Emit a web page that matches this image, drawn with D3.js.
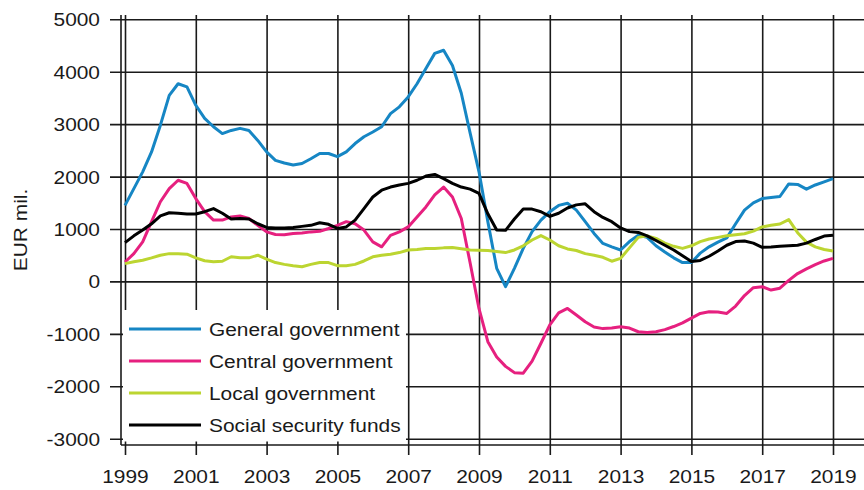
<!DOCTYPE html>
<html>
<head>
<meta charset="utf-8">
<script src="https://cdn.jsdelivr.net/npm/d3@7"></script>
<style>
  html, body { margin: 0; padding: 0; background: #fff; }
  svg { display: block; }
  text { font-family: "Liberation Sans", Arial, sans-serif; fill: #1a1a1a; }
</style>
</head>
<body>
<svg id="chart" width="864" height="490"></svg>
<script>
// ---- data ----
const quarters = [
  "1999Q1","1999Q2","1999Q3","1999Q4","2000Q1","2000Q2","2000Q3","2000Q4",
  "2001Q1","2001Q2","2001Q3","2001Q4","2002Q1","2002Q2","2002Q3","2002Q4",
  "2003Q1","2003Q2","2003Q3","2003Q4","2004Q1","2004Q2","2004Q3","2004Q4",
  "2005Q1","2005Q2","2005Q3","2005Q4","2006Q1","2006Q2","2006Q3","2006Q4",
  "2007Q1","2007Q2","2007Q3","2007Q4","2008Q1","2008Q2","2008Q3","2008Q4",
  "2009Q1","2009Q2","2009Q3","2009Q4","2010Q1","2010Q2","2010Q3","2010Q4",
  "2011Q1","2011Q2","2011Q3","2011Q4","2012Q1","2012Q2","2012Q3","2012Q4",
  "2013Q1","2013Q2","2013Q3","2013Q4","2014Q1","2014Q2","2014Q3","2014Q4",
  "2015Q1","2015Q2","2015Q3","2015Q4","2016Q1","2016Q2","2016Q3","2016Q4",
  "2017Q1","2017Q2","2017Q3","2017Q4","2018Q1","2018Q2","2018Q3","2018Q4",
  "2019Q1"
];
const generalGov = [
  1450,1770,2090,2470,2980,3550,3770,3710,3360,3110,2950,2820,2880,2920,2880,2690,
  2470,2310,2260,2220,2250,2340,2440,2440,2380,2470,2630,2760,2850,2950,3200,3330,
  3520,3770,4060,4350,4410,4120,3590,2830,2090,1140,250,-100,250,630,950,1170,
  1330,1450,1490,1360,1140,915,725,660,600,760,880,840,680,560,450,360,
  360,540,660,750,830,1100,1360,1500,1580,1600,1620,1860,1850,1760,1840,1900,
  1960
];
const centralGov = [
  370,530,755,1140,1520,1770,1930,1870,1580,1330,1170,1170,1230,1250,1200,1070,
  945,895,890,915,925,945,955,1010,1070,1140,1100,980,755,660,880,945,
  1040,1230,1420,1650,1800,1610,1200,350,-520,-1150,-1440,-1620,-1740,-1750,-1520,-1180,
  -830,-600,-515,-640,-770,-870,-900,-890,-865,-890,-960,-975,-960,-920,-860,-790,
  -700,-610,-580,-585,-610,-470,-270,-120,-100,-165,-130,20,150,240,320,390,
  440
];
const localGov = [
  340,375,405,450,500,530,530,520,450,395,375,385,470,450,450,500,
  425,360,325,300,280,325,360,360,300,300,325,390,470,500,520,550,
  600,610,630,630,640,645,625,600,595,590,570,550,600,680,790,875,
  790,680,620,590,530,500,460,385,440,640,840,870,820,730,670,630,
  680,760,810,840,870,890,910,960,1040,1070,1095,1180,930,750,660,610,
  580
];
const socialSec = [
  740,870,980,1100,1250,1310,1300,1285,1285,1330,1390,1300,1190,1200,1190,1100,
  1030,1020,1020,1030,1050,1070,1120,1090,1010,1040,1170,1390,1610,1740,1800,1840,
  1870,1930,2010,2040,1960,1870,1800,1760,1680,1290,980,975,1190,1380,1380,1330,
  1240,1300,1400,1460,1480,1330,1220,1140,1020,950,935,870,780,690,600,490,
  380,400,480,580,690,760,770,730,650,655,670,680,690,730,800,865,
  880
];
const seriesNames = ["General government","Central government","Local government","Social security funds"];
const seriesColors = ["#1686c4","#e6207f","#bcd531","#000000"];
const xTicks = [1999,2001,2003,2005,2007,2009,2011,2013,2015,2017,2019];
const yTicks = [-3000,-2000,-1000,0,1000,2000,3000,4000,5000];
const yTitle = "EUR mil.";

// ---- layout ----
const W = 864, H = 490;
const axisX = 121, axisY = 445, plotTop = 15;
const SX = 1.1; // horizontal text stretch
const svg = d3.select("#chart");

const qToNum = q => +q.slice(0,4) + (+q.slice(5) - 1) / 4;
const x = d3.scaleLinear().domain([1999, 2019]).range([125, 833]);
const y = d3.scaleLinear().domain([-3000, 5000]).range([438.7, 19.3]);

const allSeries = [generalGov, centralGov, localGov, socialSec];

// horizontal gridlines + y axis
const yAxis = d3.axisLeft(y).tickValues(yTicks).tickFormat(d => d)
  .tickSizeInner(-(W - axisX)).tickSizeOuter(0);
const gy = svg.append("g").attr("transform", `translate(${axisX},0)`).call(yAxis);
gy.select(".domain").remove();
gy.selectAll(".tick line").attr("x1", -11).attr("stroke", "#1a1a1a").attr("stroke-width", 1.6);
gy.selectAll(".tick text")
  .attr("x", -21 / SX).attr("dy", "0.34em")
  .attr("transform", `scale(${SX},1)`)
  .style("font-size", "19px").attr("fill", "#1a1a1a")
  .attr("font-family", null);

// vertical gridlines + x axis
const xAxis = d3.axisBottom(x).tickValues(xTicks).tickFormat(d => d)
  .tickSizeInner(10).tickSizeOuter(0);
const gx = svg.append("g").attr("transform", `translate(0,${axisY})`).call(xAxis);
gx.select(".domain").remove();
gx.selectAll(".tick line").attr("y1", -(axisY - plotTop)).attr("stroke", "#1a1a1a").attr("stroke-width", 1.6);
gx.selectAll(".tick text")
  .attr("y", 38).attr("dy", 0)
  .attr("transform", `scale(${SX},1)`)
  .style("font-size", "19px").attr("fill", "#1a1a1a")
  .attr("font-family", null);

// axis lines
svg.append("line").attr("x1", axisX).attr("x2", axisX).attr("y1", plotTop).attr("y2", axisY)
  .attr("stroke", "#1a1a1a").attr("stroke-width", 1.6);
svg.append("line").attr("x1", axisX).attr("x2", W).attr("y1", axisY).attr("y2", axisY)
  .attr("stroke", "#1a1a1a").attr("stroke-width", 1.6);

// y title
svg.append("text")
  .attr("transform", `translate(27,230) rotate(-90) scale(${SX},1)`)
  .attr("text-anchor", "middle")
  .style("font-size", "19px")
  .text(yTitle);

// series lines
const line = d3.line().x((d, i) => x(qToNum(quarters[i]))).y(d => y(d)).curve(d3.curveLinear);
allSeries.forEach((s, k) => {
  svg.append("path").datum(s)
    .attr("d", line)
    .attr("fill", "none")
    .attr("stroke", seriesColors[k])
    .attr("stroke-width", 3)
    .attr("stroke-linejoin", "round");
});

// legend
svg.append("rect").attr("x", 123).attr("y", 310).attr("width", 283).attr("height", 131.5).attr("fill", "#fff");
const legY = [329, 361, 393, 425];
seriesNames.forEach((n, k) => {
  svg.append("line").attr("x1", 129).attr("x2", 201).attr("y1", legY[k]).attr("y2", legY[k])
    .attr("stroke", seriesColors[k]).attr("stroke-width", 3.2);
  svg.append("text")
    .attr("transform", `translate(209,${legY[k] + 6.5}) scale(${SX},1)`)
    .style("font-size", "19px")
    .text(n);
});
</script>
</body>
</html>
